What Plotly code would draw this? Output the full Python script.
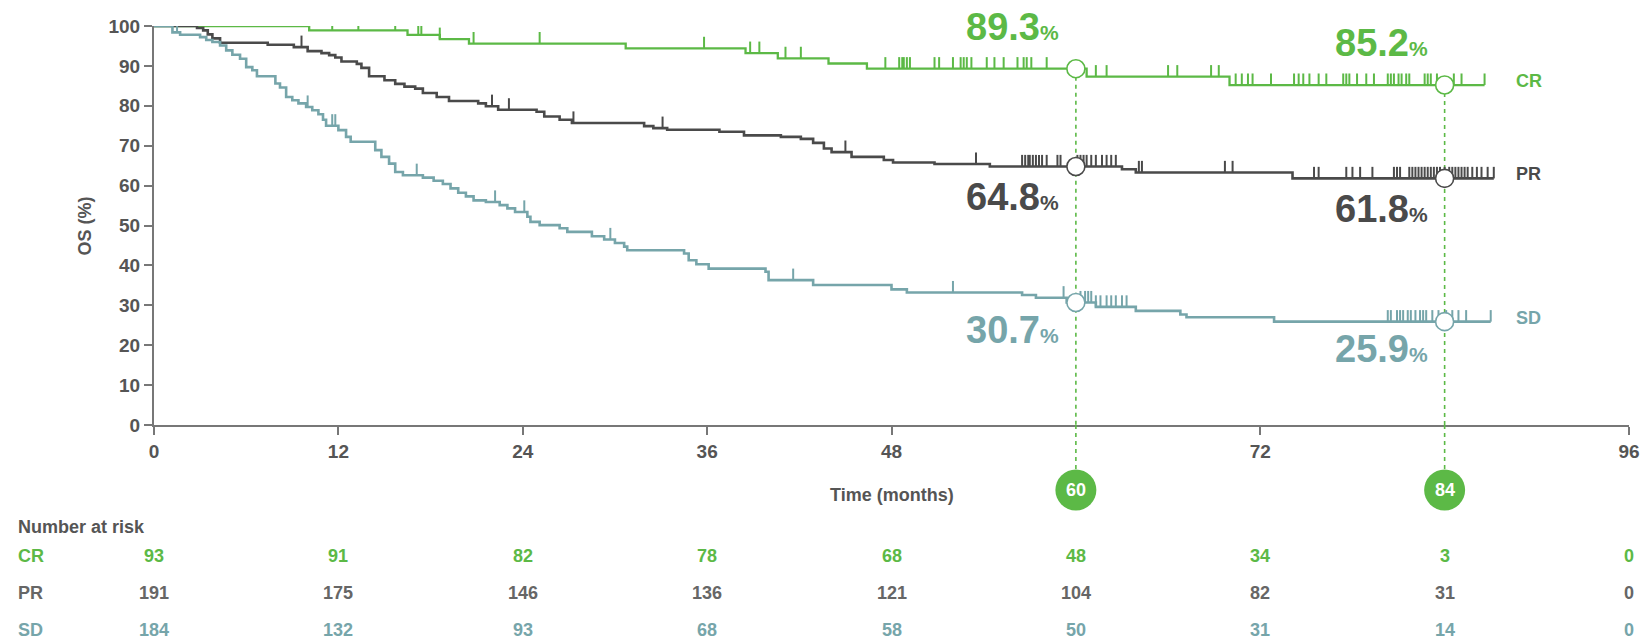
import numpy as np
import plotly.graph_objects as go

FONT = "Liberation Sans, Arial, sans-serif"
GREEN = "#5cb946"
DARK = "#4a4a4a"
TEAL = "#76a5aa"
AXIS = "#777777"
LABEL = "#555555"

# ---- Kaplan-Meier step data (months, OS %) ----
cr_times = [0, 10.1, 16.5, 18.6, 20.5, 30.7, 38.5, 40.6, 43.9, 46.4, 60.7, 70.0]
cr_surv = [100, 98.9, 97.8, 96.7, 95.6, 94.4, 93.2, 91.9, 90.6, 89.3, 87.3, 85.2]
cr_end = 86.6
cr_censor = [11.6, 13.3, 15.7, 17.2, 17.4, 18.6, 20.8, 25.1, 35.8, 38.8, 39.4, 41.1,
             42.1, 47.6, 48.5, 48.7, 48.8, 49.0, 49.2, 50.8, 51.1, 52.0, 52.5, 52.7,
             52.9, 53.2, 54.2, 54.7, 55.3, 56.2, 56.6, 56.8, 57.1, 58.1, 61.3, 62.0,
             66.0, 66.6, 68.8, 69.3, 70.4, 70.8, 71.2, 71.5, 72.7, 74.2, 74.5, 74.8,
             75.2, 75.8, 76.3, 77.4, 77.6, 77.8, 78.3, 78.9, 79.4, 80.3, 80.5, 80.7,
             81.0, 81.2, 81.5, 81.7, 82.7, 82.9, 83.1, 83.5, 84.6, 85.1, 86.6]

pr_times = [0, 2.8, 3.2, 3.5, 3.8, 4.3, 7.4, 9.1, 10.0, 10.9, 11.4, 11.8, 12.2, 13.2,
            13.5, 14.0, 15.0, 15.7, 16.3, 17.0, 17.5, 18.4, 19.2, 21.1, 21.6, 22.4,
            24.9, 25.4, 26.4, 27.2, 31.9, 32.5, 33.4, 36.8, 38.4, 40.8, 42.1, 42.9,
            43.6, 44.1, 45.4, 47.5, 48.1, 50.8, 54.4, 63.0, 63.9, 74.1]
pr_surv = [100, 99.5, 98.9, 97.9, 96.9, 95.8, 95.3, 94.7, 93.7, 93.2, 92.7, 92.1, 91.1,
           90.5, 89.5, 87.4, 86.4, 85.5, 84.8, 84.3, 83.2, 82.2, 81.2, 80.6, 79.9, 79.0,
           78.5, 77.3, 76.5, 75.7, 74.9, 74.4, 74.0, 73.5, 72.6, 72.2, 71.7, 70.7,
           69.3, 68.4, 67.2, 66.4, 65.8, 65.4, 64.8, 64.1, 63.3, 61.8]
pr_end = 87.2
pr_censor = [9.6, 22.0, 23.1, 27.3, 33.1, 45.0, 53.5, 56.5, 56.7, 56.9, 57.0, 57.2,
             57.4, 57.6, 57.8, 58.1, 58.8, 59.0, 60.1, 60.3, 60.5, 60.7, 61.0, 61.3,
             61.7, 62.0, 62.3, 62.6, 64.1, 64.3, 69.7, 70.2, 75.5, 75.8, 77.6, 78.0,
             78.5, 79.3, 80.7, 80.9, 81.1, 81.7, 81.9, 82.1, 82.3, 82.5, 82.7, 82.9,
             83.1, 83.3, 83.5, 83.7, 84.0, 84.3, 84.5, 84.7, 84.9, 85.1, 85.3, 85.5,
             85.8, 86.1, 86.4, 86.8, 87.2]

sd_times = [0, 1.2, 1.7, 3.0, 3.4, 3.8, 4.3, 4.7, 5.1, 5.6, 6.0, 6.4, 6.7, 7.9, 8.2,
            8.6, 9.0, 9.4, 9.9, 10.3, 10.7, 11.0, 11.2, 12.0, 12.5, 12.8, 14.4, 14.8,
            15.3, 15.7, 16.2, 17.5, 18.2, 18.8, 19.3, 19.8, 20.3, 20.8, 21.6, 22.5,
            23.0, 23.5, 24.3, 24.5, 25.1, 26.4, 26.9, 28.5, 29.3, 30.0, 30.6, 30.8,
            34.5, 34.8, 35.3, 36.1, 39.8, 40.0, 42.9, 48.0, 49.0, 56.5, 57.4, 59.4,
            61.3, 63.9, 66.8, 67.2, 72.9]
sd_surv = [100, 98.4, 97.8, 97.2, 96.5, 96.0, 95.1, 93.9, 92.8, 91.8, 89.7, 88.9, 87.4,
           85.6, 84.6, 82.2, 81.4, 80.6, 79.7, 78.9, 77.9, 76.5, 75.0, 73.9, 72.2, 71.0,
           68.9, 67.2, 65.5, 63.4, 62.6, 62.0, 61.2, 60.4, 59.3, 58.2, 57.3, 56.3,
           55.9, 55.1, 54.3, 53.4, 52.2, 50.9, 50.1, 49.3, 48.4, 47.3, 46.5, 45.6,
           44.7, 43.8, 43.0, 41.3, 40.3, 39.2, 38.4, 36.3, 35.1, 34.0, 33.2, 32.6,
           31.9, 30.7, 29.6, 28.6, 27.7, 27.0, 25.9]
sd_end = 87.0
sd_censor = [1.5, 10.0, 11.6, 11.8, 17.1, 22.2, 24.1, 29.7, 41.6, 52.0, 59.2, 60.3,
             60.6, 60.8, 61.0, 61.3, 61.6, 62.0, 62.3, 62.6, 63.0, 63.3, 80.3, 80.5,
             80.9, 81.1, 81.3, 81.6, 81.8, 82.1, 82.4, 82.6, 82.8, 83.2, 83.6, 84.1,
             84.5, 84.9, 85.4, 87.0]

# ---- landmark estimates ----
landmark_months = [60, 84]
cr_landmark = [89.3, 85.2]
pr_landmark = [64.8, 61.8]
sd_landmark = [30.7, 25.9]

# ---- number at risk ----
risk_months = [0, 12, 24, 36, 48, 60, 72, 84, 96]
cr_risk = [93, 91, 82, 78, 68, 48, 34, 3, 0]
pr_risk = [191, 175, 146, 136, 121, 104, 82, 31, 0]
sd_risk = [184, 132, 93, 68, 58, 50, 31, 14, 0]

x_ticks = [0, 12, 24, 36, 48, 72, 96]
y_ticks = list(range(0, 101, 10))

# ---- figure geometry (pixels) ----
W, H = 1652, 642
ML, MR, MT, MB = 154, 13, 26, 217
PLOT_W = W - ML - MR
PLOT_H = H - MT - MB
X_AXIS_PX = H - MB


def paper_y(py):
    return (X_AXIS_PX - py) / PLOT_H


BADGE_PY = 490
BADGE_R = 20.5
TICK_H = 2.9

groups = [
    dict(name="CR", color=GREEN, times=cr_times, surv=cr_surv, end=cr_end,
         censor=cr_censor, landmark=cr_landmark, risk=cr_risk, width=2.3,
         pct_shift=42, table_color=GREEN),
    dict(name="PR", color=DARK, times=pr_times, surv=pr_surv, end=pr_end,
         censor=pr_censor, landmark=pr_landmark, risk=pr_risk, width=2.6,
         pct_shift=-31, table_color="#666666"),
    dict(name="SD", color=TEAL, times=sd_times, surv=sd_surv, end=sd_end,
         censor=sd_censor, landmark=sd_landmark, risk=sd_risk, width=2.6,
         pct_shift=-27, table_color=TEAL),
]


def step_value(times, surv, t):
    idx = np.searchsorted(np.asarray(times), t, side="right") - 1
    return surv[idx]


fig = go.Figure()

# dashed landmark guides inside the plot: from the CR estimate down to the axis
for m, v in zip(landmark_months, cr_landmark):
    fig.add_trace(go.Scatter(
        x=[m, m], y=[v, 0], mode="lines",
        line=dict(color=GREEN, width=1.6, dash="4px,4px"), hoverinfo="skip",
        showlegend=False))

for g in groups:
    xs = list(g["times"]) + [g["end"]]
    ys = list(g["surv"]) + [g["surv"][-1]]
    fig.add_trace(go.Scatter(
        x=xs, y=ys, mode="lines", line=dict(color=g["color"], width=g["width"],
                                             shape="hv"),
        cliponaxis=False, showlegend=False, name=g["name"]))
    # censor marks
    cx, cy = [], []
    for c in g["censor"]:
        s = step_value(g["times"], g["surv"], c)
        cx += [c, c, None]
        cy += [s, s + TICK_H, None]
    fig.add_trace(go.Scatter(
        x=cx, y=cy, mode="lines", line=dict(color=g["color"], width=2),
        cliponaxis=False, showlegend=False, hoverinfo="skip"))

# landmark circles on the curves
for g in groups:
    fig.add_trace(go.Scatter(
        x=landmark_months, y=g["landmark"], mode="markers", cliponaxis=False,
        marker=dict(size=18, color="white", line=dict(color=g["color"], width=1.6)),
        showlegend=False, hoverinfo="skip"))

# month badges below the axis (x follows the time axis, y in paper space)
shapes = []
for m in landmark_months:
    shapes.append(dict(type="line", xref="x", yref="paper", x0=m, x1=m,
                       y0=0, y1=paper_y(BADGE_PY), layer="above",
                       line=dict(color=GREEN, width=1.6, dash="4px,4px")))
    shapes.append(dict(type="circle", xref="x", yref="paper",
                       xsizemode="pixel", ysizemode="pixel",
                       xanchor=m, yanchor=paper_y(BADGE_PY),
                       x0=-BADGE_R, x1=BADGE_R, y0=-BADGE_R, y1=BADGE_R,
                       fillcolor=GREEN, line=dict(color=GREEN, width=0),
                       layer="above"))

ann = []
for m in landmark_months:
    ann.append(dict(x=m, y=paper_y(BADGE_PY), xref="x", yref="paper",
                    xanchor="center", yanchor="middle", showarrow=False,
                    text=f"<b>{m}</b>",
                    font=dict(family=FONT, size=18, color="white")))

for g in groups:
    for m, v in zip(landmark_months, g["landmark"]):
        ann.append(dict(
            x=m, y=v, xref="x", yref="y", xanchor="right", yanchor="middle",
            xshift=-15, yshift=g["pct_shift"], showarrow=False,
            text=f"<b>{v:.1f}<span style='font-size:21px'>%</span></b>",
            font=dict(family=FONT, size=38, color=g["color"])))
    ann.append(dict(
        x=88.5, y=g["surv"][-1], xref="x", yref="y", xanchor="left",
        yanchor="middle", yshift=4, showarrow=False, text=f"<b>{g['name']}</b>",
        font=dict(family=FONT, size=18, color=g["color"])))

# axis titles
ann.append(dict(x=(85 - ML) / PLOT_W, y=paper_y(226), xref="paper",
                yref="paper", xanchor="center", yanchor="middle", textangle=-90,
                showarrow=False, text="<b>OS (%)</b>",
                font=dict(family=FONT, size=18, color=LABEL)))
ann.append(dict(x=48, y=paper_y(495), xref="x", yref="paper", xanchor="center",
                yanchor="middle", showarrow=False, text="<b>Time (months)</b>",
                font=dict(family=FONT, size=18, color=LABEL)))

# number-at-risk table
label_x = (15 - ML) / PLOT_W
ann.append(dict(x=label_x, y=paper_y(527), xref="paper", yref="paper",
                xanchor="left", yanchor="middle", showarrow=False,
                text="<b>Number at risk</b>",
                font=dict(family=FONT, size=18, color=LABEL)))
row_py = [556, 593, 630]
for g, py in zip(groups, row_py):
    ann.append(dict(x=label_x, y=paper_y(py), xref="paper", yref="paper",
                    xanchor="left", yanchor="middle", showarrow=False,
                    text=f"<b>{g['name']}</b>",
                    font=dict(family=FONT, size=18, color=g["table_color"])))
    for m, n in zip(risk_months, g["risk"]):
        ann.append(dict(x=m, y=paper_y(py), xref="x", yref="paper",
                        xanchor="center", yanchor="middle", showarrow=False,
                        text=f"<b>{n}</b>",
                        font=dict(family=FONT, size=18, color=g["table_color"])))

axis_common = dict(showline=True, linecolor=AXIS, linewidth=2, ticks="outside",
                   ticklen=8, tickwidth=2, tickcolor=AXIS, showgrid=False,
                   zeroline=False,
                   tickfont=dict(family=FONT, size=19, color=LABEL, weight="bold"))

fig.update_layout(
    width=W, height=H, autosize=False,
    margin=dict(l=ML, r=MR, t=MT, b=MB, pad=0),
    paper_bgcolor="white", plot_bgcolor="white",
    xaxis=dict(range=[0, 96], tickvals=x_ticks, **axis_common),
    yaxis=dict(range=[0, 100], tickvals=y_ticks, **axis_common),
    shapes=shapes, annotations=ann, showlegend=False,
)

fig.write_html("out.html")
